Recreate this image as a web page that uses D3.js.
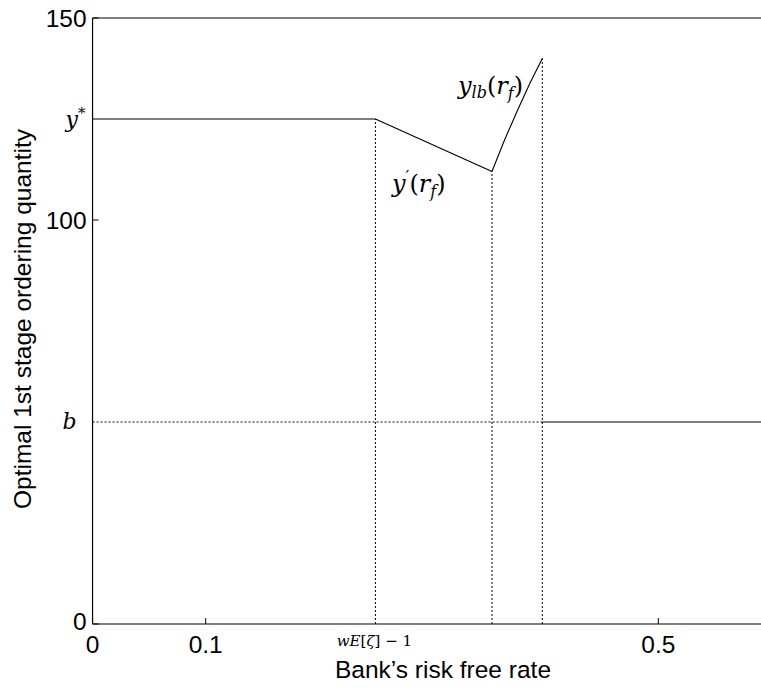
<!DOCTYPE html>
<html>
<head>
<meta charset="utf-8">
<script src="https://cdn.jsdelivr.net/npm/d3@7"></script>
<style>
  body { margin: 0; background: #fff; }
  svg { display: block; }
  .num { font-family: "Liberation Sans", Arial, sans-serif; font-size: 24.5px; fill: #000; }
  .math { font-family: "DejaVu Serif", "Liberation Serif", serif; font-style: italic; fill: #000; }
</style>
</head>
<body>
<svg id="chart" width="761" height="688"></svg>
<script>
// Optimal first-stage order quantity as a function of the bank's risk-free rate
const yStar = 125;
const bLevel = 50;
const rKink = 0.25;      // wE[ζ] − 1
const rMin = 0.353;      // end of y'(r_f) branch
const rTop = 0.3975;     // end of y_lb(r_f) branch

// flat y* part, then y'(r_f), then y_lb(r_f)
const curveR = [0, rKink, rMin, 0.3641, 0.3753, 0.3864, rTop];
const curveQ = [yStar, yStar, 112, 119.8, 127.0, 133.8, 140];
// flat part at b once credit binds
const flatR = [rTop, 0.6];
const flatQ = [bLevel, bLevel];

const xTicks = [0, 0.1, 0.5];
const yTicks = [0, 100, 150];

const svg = d3.select("#chart");
const plotLeft = 92.55, plotTop = 18, plotBottom = 624;
const x = d3.scaleLinear().domain([0, 0.6]).range([plotLeft, plotLeft + 6 * 113.15]);
const y = d3.scaleLinear().domain([0, 150]).range([plotBottom, plotTop]);

const line = d3.line().x(d => x(d[0])).y(d => y(d[1]));

// dotted guides
const dotted = [
  [[rKink, 0], [rKink, yStar]],
  [[rMin, 0], [rMin, curveQ[2]]],
  [[rTop, 0], [rTop, curveQ[curveQ.length - 1]]],
  [[0, bLevel], [rTop, bLevel]]
];
svg.append("g").selectAll("path").data(dotted).join("path")
  .attr("d", line)
  .attr("fill", "none")
  .attr("stroke", "#000")
  .attr("stroke-width", 1)
  .attr("stroke-dasharray", "2,2");

// main curves
svg.append("path")
  .attr("d", line(curveR.map((r, i) => [r, curveQ[i]])))
  .attr("fill", "none").attr("stroke", "#000").attr("stroke-width", 1.1)
  .attr("stroke-linejoin", "round");
svg.append("path")
  .attr("d", line(flatR.map((r, i) => [r, flatQ[i]])))
  .attr("fill", "none").attr("stroke", "#000").attr("stroke-width", 1.1);

// frame
const frame = svg.append("g").attr("stroke", "#000").attr("stroke-width", 1.2).attr("fill", "none");
frame.append("line").attr("x1", x(0)).attr("x2", x(0.6)).attr("y1", y(0)).attr("y2", y(0));
frame.append("line").attr("x1", x(0)).attr("x2", x(0.6)).attr("y1", y(150)).attr("y2", y(150));
frame.append("line").attr("x1", x(0)).attr("x2", x(0)).attr("y1", y(0)).attr("y2", y(150));
frame.append("line").attr("x1", x(0.6)).attr("x2", x(0.6)).attr("y1", y(0)).attr("y2", y(150));

// tick marks (inward)
svg.append("g").selectAll("line").data(xTicks).join("line")
  .attr("x1", d => x(d)).attr("x2", d => x(d))
  .attr("y1", y(0)).attr("y2", y(0) - 6)
  .attr("stroke", "#000").attr("stroke-width", 1);
svg.append("g").selectAll("line").data(yTicks).join("line")
  .attr("x1", x(0)).attr("x2", x(0) + 6)
  .attr("y1", d => y(d)).attr("y2", d => y(d))
  .attr("stroke", "#000").attr("stroke-width", 1);

// numeric tick labels
svg.append("g").selectAll("text").data(xTicks).join("text")
  .attr("class", "num")
  .attr("x", d => x(d)).attr("y", y(0) + 29)
  .attr("text-anchor", "middle")
  .text(d => d3.format("")(d));
svg.append("g").selectAll("text").data(yTicks).join("text")
  .attr("class", "num")
  .attr("x", x(0) - 6).attr("y", d => y(d) + (d === 0 ? 6 : 8.6))
  .attr("text-anchor", "end")
  .text(d => d);

// symbolic tick labels
const yStarLbl = svg.append("text").attr("class", "math").attr("font-size", 22)
  .attr("x", x(0) - 7).attr("y", y(yStar) + 8).attr("text-anchor", "end");
yStarLbl.append("tspan").text("y");
yStarLbl.append("tspan").attr("font-size", 15).attr("font-style", "normal").attr("dy", -9).text("*");

svg.append("text").attr("class", "math").attr("font-size", 22)
  .attr("x", x(0) - 16).attr("y", y(bLevel) + 7).attr("text-anchor", "end").text("b");

const kinkLbl = svg.append("text").attr("class", "math").attr("font-size", 15)
  .attr("x", x(rKink) - 1).attr("y", y(0) + 22).attr("text-anchor", "middle");
kinkLbl.append("tspan").text("wE");
kinkLbl.append("tspan").attr("font-style", "normal").text("[");
kinkLbl.append("tspan").text("ζ");
kinkLbl.append("tspan").attr("font-style", "normal").text("] − 1");

// curve annotations
const yPrime = svg.append("text").attr("class", "math").attr("font-size", 24)
  .attr("x", 392).attr("y", 192);
yPrime.append("tspan").text("y");
yPrime.append("tspan").attr("font-style", "normal").attr("font-size", 17).attr("dy", -10).text("′");
yPrime.append("tspan").attr("font-style", "normal").attr("dy", 10).text("(");
yPrime.append("tspan").text("r");
yPrime.append("tspan").attr("font-size", 16).attr("dy", 5).text("f");
yPrime.append("tspan").attr("font-style", "normal").attr("dy", -5).text(")");

const yLb = svg.append("text").attr("class", "math").attr("font-size", 24)
  .attr("x", 458).attr("y", 94);
yLb.append("tspan").text("y");
yLb.append("tspan").attr("font-size", 16).attr("dy", 4).text("lb");
yLb.append("tspan").attr("font-style", "normal").attr("dy", -4).text("(");
yLb.append("tspan").text("r");
yLb.append("tspan").attr("font-size", 16).attr("dy", 5).text("f");
yLb.append("tspan").attr("font-style", "normal").attr("dy", -5).text(")");

// axis titles
svg.append("text").attr("class", "num")
  .attr("x", 443).attr("y", 678).attr("text-anchor", "middle")
  .text("Bank’s risk free rate");
svg.append("text").attr("class", "num")
  .attr("transform", "translate(31,319) rotate(-90)")
  .attr("text-anchor", "middle")
  .text("Optimal 1st stage ordering quantity");
</script>
</body>
</html>
